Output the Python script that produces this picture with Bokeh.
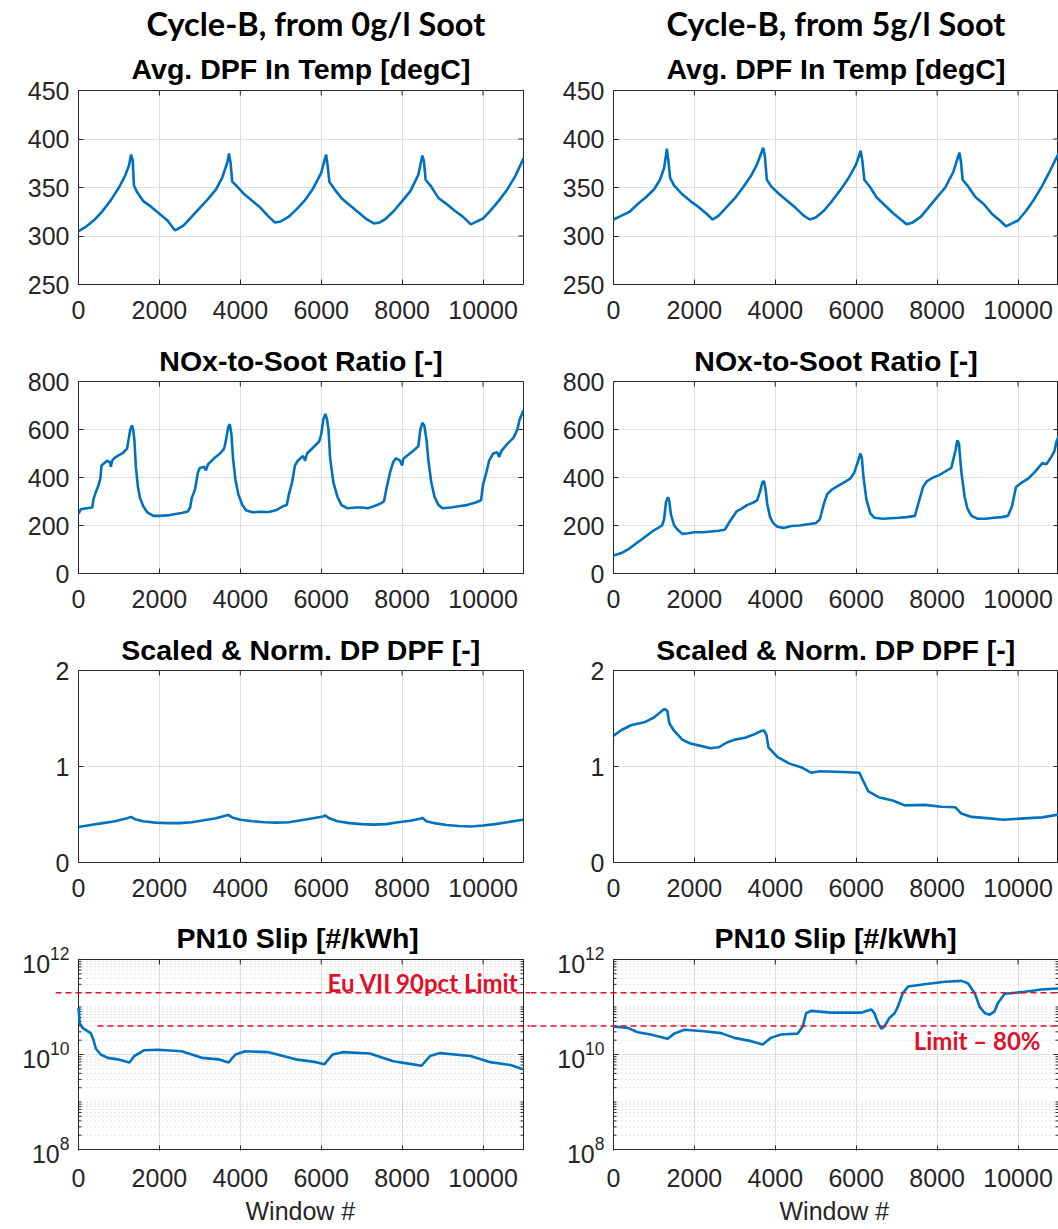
from bokeh.plotting import figure
from bokeh.layouts import column, row
from bokeh.models import FixedTicker, LogTickFormatter, Label, Title
from bokeh.embed import file_html
from bokeh.resources import INLINE

# ---------------- data ----------------
col_titles = ["Cycle-B, from 0g/l Soot", "Cycle-B, from 5g/l Soot"]
panel_titles = ["Avg. DPF In Temp [degC]", "NOx-to-Soot Ratio [-]",
                "Scaled & Norm. DP DPF [-]", "PN10 Slip [#/kWh]"]
x_label = "Window #"
x_ticks = [0, 2000, 4000, 6000, 8000, 10000]

temp0_x = [0, 200, 400, 600, 800, 1000, 1150, 1250, 1300, 1340, 1370, 1450, 1600, 1800, 2000, 2200, 2380, 2450,
           2600, 2800, 3000, 3200, 3400, 3550, 3680, 3720, 3760, 3800, 3900, 4100, 4300, 4500, 4700, 4850, 5000,
           5200, 5400, 5600, 5800, 6000, 6080, 6120, 6160, 6200, 6350, 6500, 6700, 6900, 7100, 7300, 7450, 7600,
           7800, 8000, 8200, 8400, 8500, 8540, 8580, 8700, 8900, 9100, 9300, 9500, 9700, 9850, 10000, 10200,
           10400, 10600, 10800, 11000]
temp0_y = [305, 310, 317, 326, 337, 350, 362, 373, 384, 378, 352, 345, 336, 330, 323, 316, 306, 307,
           311, 320, 329, 338, 348, 360, 376, 385, 375, 356, 352, 343, 336, 329, 320, 314, 315,
           320, 328, 337, 349, 365, 378, 384, 372, 356, 347, 339, 332, 325, 318, 313, 314, 318,
           326, 336, 346, 363, 383, 377, 358, 352, 339, 333, 326, 320, 312, 315, 318, 327,
           337, 348, 362, 380]

temp5_x = [0, 200, 400, 600, 800, 1000, 1150, 1250, 1320, 1350, 1400, 1500, 1700, 1900, 2100, 2300, 2450, 2600,
           2800, 3000, 3200, 3400, 3550, 3700, 3740, 3790, 3900, 4100, 4300, 4500, 4700, 4850, 5000, 5200, 5400,
           5600, 5800, 6000, 6110, 6150, 6200, 6350, 6500, 6700, 6900, 7100, 7250, 7400, 7600, 7800, 8000, 8200,
           8400, 8550, 8590, 8630, 8750, 8950, 9150, 9350, 9550, 9700, 9850, 10000, 10200, 10400, 10600, 10800,
           11000]
temp5_y = [317, 321, 325, 333, 340, 348, 358, 370, 390, 380, 360, 352, 343, 336, 330, 323, 317, 321,
           330, 339, 350, 362, 374, 391, 383, 358, 351, 343, 336, 329, 321, 317, 319, 326, 336,
           347, 359, 374, 388, 378, 358, 350, 340, 332, 324, 317, 312, 314, 320, 330, 340, 350,
           366, 386, 376, 358, 352, 340, 333, 323, 316, 310, 313, 316, 326, 338, 352, 368,
           385]

nox0_x = [0, 60, 200, 340, 370, 420, 480, 540, 570, 650, 720, 780, 800, 830, 900, 1000, 1100, 1200, 1240, 1280,
          1320, 1350, 1380, 1420, 1470, 1520, 1600, 1700, 1850, 2000, 2200, 2400, 2550, 2700, 2760, 2800, 2880,
          2950, 3000, 3100, 3150, 3200, 3350, 3500, 3600, 3650, 3700, 3740, 3780, 3820, 3880, 3950, 4050, 4150,
          4300, 4500, 4700, 4900, 5050, 5150, 5200, 5280, 5350, 5420, 5550, 5600, 5650, 5800, 5950, 6000, 6050,
          6100, 6140, 6180, 6220, 6300, 6400, 6500, 6650, 6850, 7000, 7150, 7300, 7450, 7550, 7620, 7700, 7780,
          7850, 7950, 8000, 8030, 8150, 8300, 8400, 8450, 8500, 8550, 8600, 8650, 8720, 8800, 8900, 9000, 9200,
          9400, 9600, 9800, 9950, 10000, 10080, 10150, 10250, 10350, 10400, 10450, 10600, 10750, 10850, 10900,
          11000]
nox0_y = [250, 268, 272, 275, 310, 335, 360, 395, 450, 462, 470, 462, 445, 470, 483, 493, 503, 520, 560, 600,
          617, 600, 560, 440, 360, 315, 280, 255, 240, 240, 242, 248, 252, 258, 275, 315, 350,
          420, 440, 445, 430, 455, 480, 500, 520, 560, 610, 622, 580, 480, 390, 330, 285, 262,
          255, 257, 256, 265, 280, 285, 330, 380, 450, 470, 490, 470, 500, 525, 550, 580, 640,
          665, 645, 600, 480, 380, 320, 285, 272, 275, 275, 272, 280, 290, 300, 360, 420, 465,
          480, 470, 450, 478, 495, 515, 530, 600, 628, 615, 560, 470, 380, 320, 285, 272, 275,
          280, 285, 295, 305, 370, 420, 470, 500, 505, 485, 510, 540, 565, 600, 640,
          680]

nox5_x = [0, 200, 400, 600, 800, 1000, 1200, 1250, 1300, 1350, 1380, 1420, 1500, 1600, 1700, 1850, 2000, 2200,
          2400, 2600, 2750, 2850, 2950, 3050, 3150, 3300, 3450, 3550, 3620, 3680, 3720, 3760, 3800, 3870, 3950,
          4050, 4200, 4400, 4600, 4800, 5000, 5100, 5200, 5280, 5400, 5550, 5700, 5850, 5950, 6050, 6100, 6140,
          6180, 6250, 6350, 6450, 6650, 6850, 7050, 7250, 7450, 7550, 7650, 7750, 7900, 8050, 8200, 8350, 8450,
          8500, 8540, 8600, 8680, 8750, 8850, 9000, 9200, 9400, 9600, 9750, 9850, 9950, 10100, 10250, 10400,
          10500, 10600, 10700, 10800, 10900, 10950, 11000]
nox5_y = [75, 85, 105, 130, 155, 180, 200, 225, 300, 318, 300, 245, 200, 180, 165, 168, 172, 172,
          175, 178, 182, 210, 235, 260, 268, 285, 295, 305, 340, 380, 385, 350, 290, 235, 210,
          195, 190, 198, 200, 205, 210, 225, 290, 330, 350, 365, 380, 395, 420, 470, 500, 480,
          400, 310, 250, 232, 228, 230, 232, 235, 240, 300, 360, 385, 400, 410, 425, 440, 510,
          555, 540, 420, 320, 270, 240, 228, 228, 232, 235, 240, 280, 360, 380, 395, 420,
          440, 460, 455, 480, 510, 550, 570]

dp0_x = [0, 300, 600, 900, 1200, 1300, 1400, 1600, 1900, 2200, 2500, 2800, 3100, 3400, 3650, 3700, 3800, 4000,
         4300, 4600, 4900, 5200, 5500, 5800, 6050, 6100, 6200, 6400, 6700, 7000, 7300, 7600, 7900, 8200, 8450,
         8500, 8600, 8800, 9100, 9400, 9700, 10000, 10300, 10600, 10900, 11000]
dp0_y = [0.37, 0.39, 0.41, 0.43, 0.46, 0.475, 0.45, 0.43, 0.415, 0.41, 0.41, 0.42, 0.44, 0.46, 0.49, 0.495, 0.47,
         0.445, 0.43, 0.42, 0.415, 0.42, 0.44, 0.46, 0.48, 0.49, 0.46, 0.43, 0.41, 0.40, 0.395, 0.40, 0.42, 0.435,
         0.455, 0.465, 0.43, 0.41, 0.39, 0.38, 0.375, 0.385, 0.40, 0.42, 0.44, 0.445]

dp5_x = [0, 200, 430, 760, 1000, 1200, 1260, 1330, 1380, 1500, 1700, 1900, 2100, 2400, 2600, 2800, 3000, 3250,
         3450, 3650, 3720, 3780, 3830, 4050, 4350, 4650, 4880, 5100, 5500, 5800, 6080, 6160, 6300, 6550, 6900,
         7200, 7700, 8100, 8450, 8600, 8850, 9300, 9650, 10150, 10600, 11000]
dp5_y = [1.32, 1.38, 1.43, 1.46, 1.51, 1.58, 1.60, 1.58, 1.45, 1.37, 1.28, 1.24, 1.22, 1.19, 1.20, 1.25, 1.28,
         1.30, 1.33, 1.37, 1.375, 1.33, 1.20, 1.10, 1.03, 0.99, 0.935, 0.95, 0.945, 0.94, 0.935, 0.86, 0.74, 0.68,
         0.645, 0.595, 0.60, 0.58, 0.575, 0.51, 0.475, 0.46, 0.445, 0.46, 0.47, 0.50]

pn0_x = [0, 30, 100, 300, 370, 430, 550, 720, 970, 1260, 1380, 1630, 1970, 2550, 3050, 3460, 3710, 3880, 4120,
         4700, 5370, 5870, 6075, 6280, 6530, 7200, 7780, 8270, 8480, 8690, 8940, 9690, 10180, 10680, 10950, 11000]
pn0_y = [9.55e10, 4.57e10, 3.63e10, 2.82e10, 2.04e10, 1.32e10, 1.0e10, 8.5e9, 7.9e9, 6.8e9, 9.3e9, 1.23e10,
         1.26e10, 1.17e10, 8.5e9, 7.9e9, 6.8e9, 1.0e10, 1.17e10, 1.12e10, 7.9e9, 6.9e9, 6.2e9, 1.0e10, 1.12e10,
         1.05e10, 7.2e9, 6.2e9, 5.8e9, 9.3e9, 1.07e10, 9.3e9, 6.9e9, 6.0e9, 5.0e9, 4.9e9]

pn5_x = [0, 350, 600, 920, 1340, 1500, 1750, 2240, 2660, 2990, 3400, 3690, 3890, 4140, 4550, 4680, 4760, 4880,
         5380, 6120, 6370, 6450, 6540, 6620, 6700, 6820, 6950, 7030, 7150, 7280, 7690, 8190, 8600, 8760, 8930,
         9050, 9180, 9300, 9420, 9500, 9670, 10170, 10580, 11000]
pn5_y = [3.9e10, 3.63e10, 2.95e10, 2.63e10, 2.14e10, 2.75e10, 3.31e10, 3.09e10, 2.82e10, 2.24e10, 1.91e10,
         1.62e10, 2.24e10, 2.63e10, 2.75e10, 3.9e10, 7.4e10, 8.3e10, 7.6e10, 7.6e10, 8.9e10, 7.4e10, 4.57e10,
         3.47e10, 3.9e10, 5.9e10, 7.4e10, 1.02e11, 1.95e11, 2.69e11, 3.02e11, 3.39e11, 3.55e11, 3.16e11, 1.95e11,
         1.02e11, 7.4e10, 6.9e10, 8.1e10, 1.2e11, 1.9e11, 2.09e11, 2.34e11, 2.45e11]

limit_90pct = 2e11
limit_80pct = 4e10
limit_labels = ["Eu VII 90pct Limit", "Limit \u2013 80%"]

# ---------------- style ----------------
BLUE = "#0072BD"
RED = "#e0102a"
AX = "#262626"
GRID = "#dedede"
FONT = "Liberation Sans"
XMAX = 11000
PX = 445.0 / XMAX          # pixels per x unit inside an axes box

heights = [330, 290, 289, 320]
tops = [90, 51, 50, 49]
bottoms = [46, 47, 47, 77]
frame_h = [194, 192, 192, 192]


def style_axes(p):
    p.background_fill_color = "white"
    p.border_fill_color = "white"
    for ax in (p.xaxis[0], p.yaxis[0]):
        ax.axis_line_color = None
        ax.major_tick_in = 5
        ax.major_tick_out = 0
        ax.major_tick_line_color = AX
        ax.minor_tick_in = 0
        ax.minor_tick_out = 0
        ax.major_label_text_font = FONT
        ax.major_label_text_font_size = "25px"
        ax.major_label_text_color = AX
    p.xaxis[0].ticker = FixedTicker(ticks=x_ticks)
    p.xaxis[0].major_label_standoff = 16
    p.yaxis[0].major_label_standoff = 9
    p.xgrid.grid_line_color = GRID


def style_title(t, font, size, bold=True):
    t.text_font = font
    t.text_font_size = size
    t.text_font_style = "bold" if bold else "normal"
    t.text_color = "#000000"


def make_linear(ci, ri, xs, ys):
    w = 530 if ci == 0 else 528
    yr = [(250, 450), (0, 800), (0, 2)][ri]
    p = figure(width=w, height=heights[ri], output_backend="svg", toolbar_location=None,
               x_range=(0, XMAX), y_range=yr, min_border_top=tops[ri], min_border_bottom=bottoms[ri],
               min_border_left=78 if ci == 0 else 83, min_border_right=7 if ci == 0 else 0)
    style_axes(p)
    p.outline_line_color = AX
    p.outline_line_width = 1
    p.ygrid.grid_line_color = GRID
    ticks = [[250, 300, 350, 400, 450], [0, 200, 400, 600, 800], [0, 1, 2]][ri]
    p.yaxis[0].ticker = FixedTicker(ticks=ticks)
    if ri == 0:
        # column heading (outermost) + panel title (next to the axes)
        p.title.text = col_titles[ci]
        style_title(p.title, "Lato", "32.5px")
        if ci == 0:
            p.title.align = "left"
            p.title.offset = 68
        else:
            p.title.align = "center"
        p.title.standoff = 1
        p.title.vertical_align = "middle"
        sub = Title(text=panel_titles[ri], align="center", standoff=12)
        style_title(sub, FONT, "28.5px")
        p.add_layout(sub, "above")
    else:
        p.title.text = panel_titles[ri]
        style_title(p.title, FONT, "28.5px")
        p.title.align = "center"
        p.title.standoff = 10
    # box ticks on the top and right edges
    ppu = frame_h[ri] / (yr[1] - yr[0])
    n = len(x_ticks)
    p.segment(x0=x_ticks, x1=x_ticks, y0=[yr[1]] * n, y1=[yr[1] - 5 / ppu] * n, line_color=AX, line_width=1)
    p.segment(x0=[XMAX] * len(ticks), x1=[XMAX - 5 / PX] * len(ticks), y0=ticks, y1=ticks,
              line_color=AX, line_width=1)
    p.line(xs, ys, line_color=BLUE, line_width=2.6)
    return p


def make_log(ci, xs, ys):
    # frame widened so that the limit lines can run outside the axes box
    lo, hi = 10 ** (8 - 1 / 48), 10 ** (12 + 1 / 48)
    if ci == 0:
        w, bl, br = 530, 55, 0
        xr = (-(78 - 55) / PX, XMAX + (530 - 523) / PX)
        lab_standoff = -14
        title_off, xlab_off = 121, 190
    else:
        w, bl, br = 528, 0, 0
        xr = (-(613 - 530) / PX, XMAX)
        lab_standoff = -74
        title_off, xlab_off = 184, 249
    p = figure(width=w, height=heights[3], output_backend="svg", toolbar_location=None,
               x_range=xr, y_axis_type="log", y_range=(lo, hi),
               min_border_top=tops[3], min_border_bottom=bottoms[3],
               min_border_left=bl, min_border_right=br)
    style_axes(p)
    p.xaxis[0].major_label_standoff = 18
    p.outline_line_color = None
    p.ygrid.grid_line_color = None
    yax = p.yaxis[0]
    yax.major_tick_in = 0
    yax.major_label_standoff = lab_standoff
    major = [1e8, 1e10, 1e12]
    minors = [k * 10 ** e for e in range(8, 12) for k in range(1, 10)] + [1e12]
    yax.ticker = FixedTicker(ticks=major, minor_ticks=minors)
    yax.formatter = LogTickFormatter()

    # titles
    p.title.text = panel_titles[3]
    style_title(p.title, FONT, "28.5px")
    p.title.align = "left"
    p.title.offset = title_off
    p.title.standoff = 9
    xl = Title(text=x_label, align="left", offset=xlab_off, standoff=10)
    style_title(xl, FONT, "25px", bold=False)
    xl.text_color = AX
    p.add_layout(xl, "below")

    # horizontal grid restricted to the axes box
    minor_lines = [v for v in minors if v not in major]
    p.segment(x0=[0] * len(minor_lines), x1=[XMAX] * len(minor_lines), y0=minor_lines, y1=minor_lines,
              line_color="#c4c4c4", line_dash="1 3", line_width=1)
    p.segment(x0=[0], x1=[XMAX], y0=[1e10], y1=[1e10], line_color=GRID, line_width=1)
    # inward ticks of the box (left, right, top)
    for x0, dx in ((0, 1), (XMAX, -1)):
        p.segment(x0=[x0] * 3, x1=[x0 + dx * 5 / PX] * 3, y0=major, y1=major, line_color=AX, line_width=1)
        p.segment(x0=[x0] * len(minor_lines), x1=[x0 + dx * 3 / PX] * len(minor_lines), y0=minor_lines,
                  y1=minor_lines, line_color=AX, line_width=1)
    n = len(x_ticks)
    p.segment(x0=x_ticks, x1=x_ticks, y0=[1e12] * n, y1=[10 ** (12 - 5 / 48)] * n, line_color=AX, line_width=1)
    # axes box
    p.quad(left=[0], right=[XMAX], bottom=[1e8], top=[1e12], fill_color=None, line_color=AX, line_width=1)

    p.line(xs, ys, line_color=BLUE, line_width=2.6)

    # limit lines and labels
    if ci == 0:
        p.segment(x0=[xr[0], 470], x1=[xr[1], xr[1]], y0=[limit_90pct, limit_80pct], y1=[limit_90pct, limit_80pct],
                  line_color=RED, line_dash="6 4", line_width=1.5)
        p.add_layout(Label(x=(518 - 78) / PX, y=10 ** (12 - 23 / 48), text=limit_labels[0], text_align="right",
                           text_baseline="middle", text_font="Lato", text_font_size="24px",
                           text_font_style="bold", text_color=RED))
    else:
        p.segment(x0=[xr[0], xr[0]], x1=[xr[1], xr[1]], y0=[limit_90pct, limit_80pct],
                  y1=[limit_90pct, limit_80pct], line_color=RED, line_dash="6 4", line_width=1.5)
        p.add_layout(Label(x=(1040 - 613) / PX, y=10 ** (12 - 81.5 / 48), text=limit_labels[1], text_align="right",
                           text_baseline="middle", text_font="Lato", text_font_size="24px",
                           text_font_style="bold", text_color=RED))
    return p


series = [[(temp0_x, temp0_y), (temp5_x, temp5_y)],
          [(nox0_x, nox0_y), (nox5_x, nox5_y)],
          [(dp0_x, dp0_y), (dp5_x, dp5_y)],
          [(pn0_x, pn0_y), (pn5_x, pn5_y)]]

rows = []
for ri in range(4):
    figs = []
    for ci in range(2):
        xs, ys = series[ri][ci]
        if ri < 3:
            figs.append(make_linear(ci, ri, xs, ys))
        else:
            figs.append(make_log(ci, xs, ys))
    rows.append(row(*figs))

layout = column(*rows)
open("out.html", "w").write(file_html(layout, INLINE))
